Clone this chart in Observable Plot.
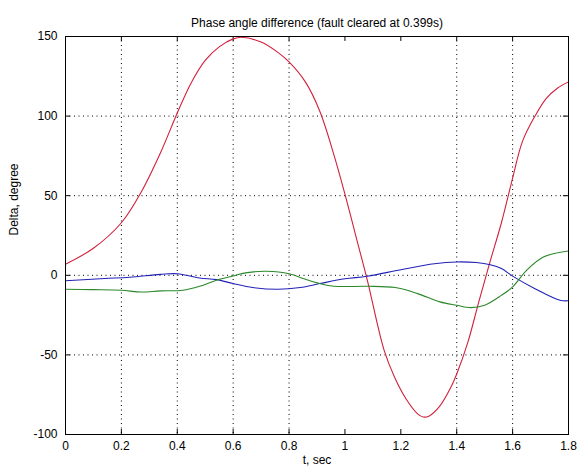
<!DOCTYPE html>
<html>
<head>
<meta charset="utf-8">
<script src="https://cdn.jsdelivr.net/npm/d3@7"></script>
<script src="https://cdn.jsdelivr.net/npm/@observablehq/plot@0.6"></script>
<style>
  html, body { margin: 0; padding: 0; background: #fff; }
  #chart svg { display: block; }
</style>
</head>
<body>
<div id="chart"></div>
<script>
const titleText = "Phase angle difference (fault cleared at 0.399s)";
const xLabel = "t, sec";
const yLabel = "Delta, degree";

const xTicks = [0, 0.2, 0.4, 0.6, 0.8, 1, 1.2, 1.4, 1.6, 1.8];
const xTickLabels = ["0", "0.2", "0.4", "0.6", "0.8", "1", "1.2", "1.4", "1.6", "1.8"];
const yTicks = [-100, -50, 0, 50, 100, 150];
const yTickLabels = ["-100", "-50", "0", "50", "100", "150"];
const xGrid = [0.2, 0.4, 0.6, 0.8, 1.4, 1.6];
const yGrid = [-50, 0, 50, 100];

const redT = [0, 0.1, 0.2, 0.27, 0.34, 0.4, 0.45, 0.5, 0.55, 0.6, 0.63, 0.7, 0.76, 0.8, 0.86, 0.91, 0.96, 1.0, 1.04, 1.08, 1.14, 1.18, 1.22, 1.26, 1.28, 1.3, 1.34, 1.38, 1.4, 1.44, 1.48, 1.52, 1.56, 1.6, 1.635, 1.68, 1.72, 1.76, 1.8];
const redV = [7, 17, 33, 52, 77, 102, 121, 135, 143.5, 148.5, 149.5, 146.5, 140, 134, 121, 103, 76, 51, 24, -3, -47, -65, -78, -87, -89, -88.5, -82, -70, -62, -42, -16, 9, 33, 61, 84, 100, 111, 117.5, 121.5];

const blueT = [0, 0.14, 0.23, 0.34, 0.4, 0.48, 0.54, 0.6, 0.67, 0.76, 0.84, 0.91, 1.0, 1.08, 1.2, 1.32, 1.4, 1.47, 1.52, 1.56, 1.6, 1.68, 1.77, 1.8];
const blueV = [-3.4, -2, -1.2, 0.6, 1, -1.7, -2.7, -5.2, -7.7, -8.8, -7.7, -5.2, -2.2, -0.6, 3.5, 7.3, 8.4, 8, 6.6, 4.2, -0.5, -8.4, -15.7, -16];

const greenT = [0, 0.1, 0.2, 0.27, 0.34, 0.42, 0.48, 0.54, 0.6, 0.65, 0.72, 0.8, 0.85, 0.91, 0.96, 1.08, 1.18, 1.26, 1.34, 1.4, 1.45, 1.5, 1.56, 1.6, 1.65, 1.71, 1.8];
const greenV = [-8.8, -9, -9.4, -10.5, -9.8, -9.4, -6.9, -3.1, -0.4, 1.7, 2.5, 1, -2, -5.2, -6.9, -6.9, -7.7, -11.5, -16.7, -18.8, -20.3, -18.8, -12.6, -7.3, 3.1, 11.5, 15.3];

const seriesColors = {red: "#d2203c", blue: "#2222b8", green: "#2a882a"};

const toRows = (ts, vs, s) => ts.map((t, i) => ({t, v: vs[i], s}));
const rows = [
  ...toRows(redT, redV, "red"),
  ...toRows(blueT, blueV, "blue"),
  ...toRows(greenT, greenV, "green")
];

const xDom = [0, 1.8], yDom = [-100, 150];
const tickLenX = 0.018, tickLenY = 3.1;

const chart = Plot.plot({
  width: 577,
  height: 473,
  marginLeft: 65,
  marginRight: 9,
  marginTop: 36,
  marginBottom: 39,
  style: {fontFamily: "'Liberation Sans', Arial, sans-serif", fontSize: "12px", background: "#fff", color: "#000"},
  x: {domain: xDom},
  y: {domain: yDom},
  marks: [
    Plot.ruleX(xGrid, {stroke: "#000", strokeWidth: 1, strokeDasharray: "1,3.5"}),
    Plot.ruleY(yGrid, {stroke: "#000", strokeWidth: 1, strokeDasharray: "1,3.5"}),
    Plot.ruleX(xTicks, {y1: yDom[0], y2: yDom[0] + tickLenY, stroke: "#000"}),
    Plot.ruleX(xTicks, {y1: yDom[1], y2: yDom[1] - tickLenY, stroke: "#000"}),
    Plot.ruleY(yTicks, {x1: xDom[0], x2: xDom[0] + tickLenX, stroke: "#000"}),
    Plot.ruleY(yTicks, {x1: xDom[1], x2: xDom[1] - tickLenX, stroke: "#000"}),
    Plot.line(rows, {x: "t", y: "v", z: "s", stroke: d => seriesColors[d.s], strokeWidth: 1.1, curve: "catmull-rom"}),
    Plot.frame({stroke: "#000", strokeWidth: 1}),
    Plot.axisX(xTicks, {tickSize: 0, tickPadding: 7, tickFormat: (d, i) => xTickLabels[i], fontSize: 12, label: null}),
    Plot.axisY(yTicks, {tickSize: 0, tickPadding: 8, tickFormat: (d, i) => yTickLabels[i], fontSize: 12, label: null}),
    Plot.text([titleText], {frameAnchor: "top", dy: -18, fontSize: 12}),
    Plot.text([xLabel], {frameAnchor: "bottom", dy: 29, fontSize: 12}),
    Plot.text([yLabel], {frameAnchor: "left", dx: -51, rotate: -90, fontSize: 12})
  ]
});
document.getElementById("chart").appendChild(chart);
</script>
</body>
</html>
